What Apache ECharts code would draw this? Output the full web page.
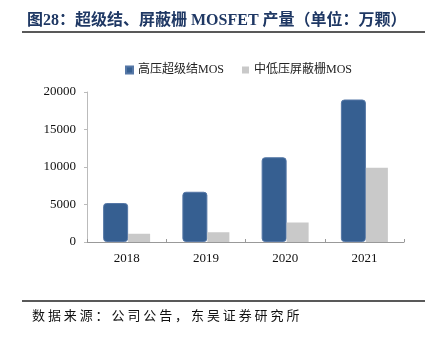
<!DOCTYPE html>
<html>
<head>
<meta charset="utf-8">
<script src="https://cdn.jsdelivr.net/npm/echarts@6/dist/echarts.min.js"></script>
<style>
  html, body { margin: 0; padding: 0; background: #fff; }
  #wrap { position: relative; width: 435px; height: 338px; overflow: hidden; }
  #chart { position: absolute; left: 0; top: 0; width: 435px; height: 338px; }
  #source {
    position: absolute; left: 32px; top: 306px;
    font-family: "Noto Sans CJK SC", sans-serif; font-size: 13px;
    letter-spacing: 2.9px; color: #111; line-height: 18px; white-space: nowrap;
  }
</style>
</head>
<body>
<div id="wrap">
  <div id="chart"></div>
  <div id="source">数据来源：公司公告，东吴证券研究所</div>
</div>
<script>
// Annual output, unit: 10k pieces
const years = ['2018', '2019', '2020', '2021'];
const superJunction = [5200, 6700, 11300, 19000];
const shieldedGate = [1100, 1300, 2600, 9900];
const yTicks = [0, 5000, 10000, 15000, 20000];

const serif = '"Liberation Serif", "Noto Sans CJK SC", serif';
const chart = echarts.init(document.getElementById('chart'), null, { renderer: 'canvas' });

chart.setOption({
  animation: false,
  title: {
    text: '图28：超级结、屏蔽栅 MOSFET 产量（单位：万颗）',
    left: 22, top: 8,
    textStyle: { fontFamily: serif, fontSize: 16, fontWeight: 'bold', color: '#1f3864' }
  },
  graphic: [
    { type: 'line', shape: { x1: 22, y1: 32, x2: 425, y2: 32 }, style: { stroke: '#222', lineWidth: 1.6 } },
    { type: 'line', shape: { x1: 22, y1: 301, x2: 425, y2: 301 }, style: { stroke: '#222', lineWidth: 1.6 } }
  ],
  legend: {
    top: 59, left: 120,
    itemWidth: 7, itemHeight: 7, itemGap: 18,
    icon: 'rect',
    textStyle: { fontFamily: serif, fontSize: 12, color: '#222' },
    data: ['高压超级结MOS', '中低压屏蔽栅MOS']
  },
  grid: { left: 87, right: 31, top: 92, bottom: 96 },
  xAxis: {
    type: 'category',
    data: years,
    axisLine: { lineStyle: { color: '#999', width: 1 } },
    axisTick: { show: true, inside: true, length: 3, lineStyle: { color: '#999' } },
    axisLabel: { fontFamily: serif, fontSize: 13, color: '#111', margin: 10 }
  },
  yAxis: {
    type: 'value',
    min: yTicks[0], max: yTicks[yTicks.length - 1], interval: 5000,
    splitLine: { show: false },
    axisLine: { show: true, lineStyle: { color: '#bbb' } },
    axisTick: { show: true, length: 3, lineStyle: { color: '#bbb' } },
    axisLabel: {
      fontFamily: serif, fontSize: 13, color: '#111', margin: 11,
      formatter: (v) => String(v)
    }
  },
  series: [
    {
      name: '高压超级结MOS', type: 'bar', data: superJunction,
      barWidth: 25, barGap: '0%',
      itemStyle: { color: '#365f91', borderColor: '#5577a6', borderWidth: 1, borderRadius: 3 }
    },
    {
      name: '中低压屏蔽栅MOS', type: 'bar', data: shieldedGate,
      barWidth: 22,
      itemStyle: { color: '#c9c9c9' }
    }
  ]
});
</script>
</body>
</html>
